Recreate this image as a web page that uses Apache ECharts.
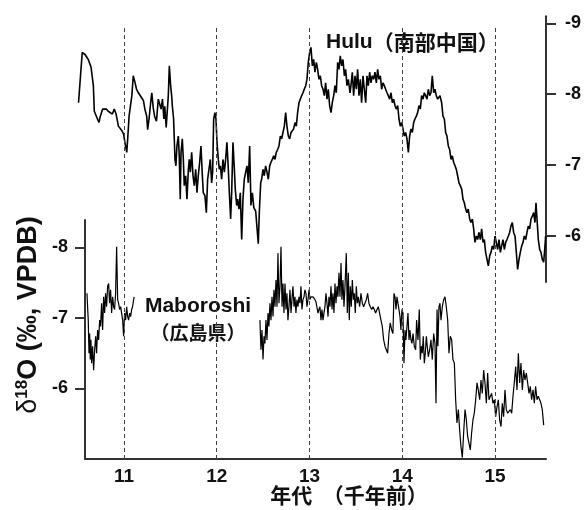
<!DOCTYPE html>
<html>
<head>
<meta charset="utf-8">
<title>Hulu / Maboroshi δ18O</title>
<script src="https://cdn.jsdelivr.net/npm/echarts@6/dist/echarts.min.js"></script>
<style>
    html, body { margin: 0; padding: 0; background: #fff; }
    #main { width: 585px; height: 510px; }
</style>
</head>
<body>
<div id="main"></div>
<script>
// Hulu (南部中国) 年代 千年前 / δ18O
var huluAge = [10.51,10.55,10.58,10.615,10.645,10.67,10.68,10.70,10.73,10.745,10.77,10.79,10.81,10.83,10.85,10.875,10.895,10.915,10.94,10.96,10.98,10.995,11.01,11.03,11.04,11.055,11.07,11.085,11.10,11.12,11.135,11.155,11.19,11.21,11.225,11.245,11.255,11.27,11.29,11.30,11.315,11.33,11.35,11.37,11.385,11.40,11.415,11.43,11.44,11.455,
    11.478,11.489,11.503,11.514,11.521,11.535,11.55,11.56,11.571,11.586,11.596,11.607,11.615,11.629,11.64,11.65,11.665,11.679,11.694,11.704,11.715,11.73,11.744,11.758,11.773,11.787,11.801,11.816,11.83,11.845,11.855,11.873,11.888,11.902,11.916,11.931,11.945,11.956,11.967,11.981,11.992,12.003,12.017,12.028,12.039,12.053,12.067,12.082,12.096,12.11,12.125,12.136,12.15,12.161,12.175,12.19,12.20,12.215,12.225,12.24,12.254,12.269,12.283,12.297,12.312,12.326,12.34,12.355,12.369,12.384,12.40,12.42,12.435,12.448,12.459,
    12.474,12.484,12.499,12.513,12.527,12.542,12.556,12.571,12.585,12.599,12.614,12.628,12.642,12.657,12.671,12.686,12.70,12.714,12.729,12.743,12.757,12.772,12.786,12.801,12.815,12.829,12.844,12.858,12.872,12.887,12.901,12.916,12.93,12.944,12.959,12.973,12.987,13.002,13.016,13.031,13.045,13.059,13.074,13.088,13.102,13.117,13.131,13.146,13.16,13.174,13.189,13.203,13.217,13.232,13.246,13.261,13.275,13.289,13.304,13.318,13.332,13.347,13.361,13.376,13.39,13.404,13.419,13.437,
    13.447,13.462,13.476,13.491,13.505,13.519,13.534,13.548,13.562,13.577,13.591,13.606,13.62,13.634,13.649,13.663,13.677,13.692,13.706,13.721,13.735,13.749,13.764,13.778,13.792,13.807,13.821,13.836,13.85,13.864,13.879,13.893,13.907,13.922,13.936,13.951,13.965,13.979,13.994,14.008,14.022,14.037,14.051,14.066,14.08,14.094,14.109,14.123,14.137,14.152,14.166,14.181,14.195,14.209,14.224,14.238,14.252,14.267,14.281,14.296,14.31,14.324,14.339,14.353,14.367,14.382,
    14.389,14.407,14.425,14.439,14.454,14.468,14.482,14.497,14.511,14.526,14.54,14.554,14.569,14.583,14.597,14.612,14.626,14.641,14.655,14.669,14.684,14.698,14.712,14.727,14.741,14.756,14.77,14.784,14.799,14.813,14.827,14.842,14.856,14.871,14.885,14.899,14.914,14.928,14.943,14.957,14.971,14.986,15.0,15.014,15.029,15.043,15.058,15.072,15.086,15.101,15.115,15.129,15.144,15.158,15.172,15.187,15.201,15.216,15.23,15.244,15.259,15.273,15.288,15.302,15.316,15.331,15.345,15.359,15.374,15.388,15.403,15.417,15.431,15.442,15.453,15.467,15.482,15.496,15.51,15.525,15.539,15.546];
var huluD18O = [-7.88,-8.59,-8.56,-8.49,-8.38,-8.12,-7.76,-7.74,-7.60,-7.69,-7.79,-7.77,-7.79,-7.76,-7.78,-7.72,-7.79,-7.72,-7.55,-7.53,-7.48,-7.44,-7.32,-7.18,-7.37,-7.69,-7.67,-7.98,-8.26,-8.16,-8.07,-8.02,-7.95,-7.91,-7.79,-7.69,-7.50,-7.65,-7.91,-8.02,-7.81,-7.69,-7.62,-7.93,-7.95,-7.79,-7.93,-7.65,-7.83,-7.53,
    -7.98,-8.40,-8.12,-7.98,-7.84,-7.65,-7.08,-6.99,-7.27,-7.41,-7.13,-6.52,-7.18,-7.37,-7.08,-6.71,-6.85,-6.52,-6.94,-7.08,-6.90,-7.18,-6.85,-6.71,-6.94,-6.61,-6.85,-7.04,-7.27,-6.85,-6.61,-6.57,-6.33,-6.80,-6.94,-7.08,-6.75,-6.90,-7.65,-7.74,-7.65,-7.32,-7.08,-6.94,-6.99,-6.80,-7.08,-6.90,-7.08,-7.32,-6.94,-6.61,-6.24,-6.61,-7.32,-6.94,-6.66,-6.43,-6.52,-6.38,-6.61,-5.95,-6.52,-6.80,-6.90,-6.99,-6.75,-7.27,-6.43,-6.61,-6.40,-6.35,-6.10,-5.89,-6.33,
    -6.75,-6.80,-6.94,-6.85,-6.99,-6.90,-6.80,-6.99,-7.04,-7.08,-7.13,-7.08,-7.18,-7.22,-7.27,-7.41,-7.37,-7.46,-7.55,-7.74,-7.55,-7.41,-7.37,-7.46,-7.46,-7.51,-7.60,-7.55,-7.74,-7.88,-7.93,-7.98,-8.02,-8.07,-8.12,-8.21,-8.45,-8.59,-8.66,-8.40,-8.49,-8.31,-8.45,-8.35,-8.21,-8.26,-8.12,-8.07,-7.98,-8.16,-7.93,-8.07,-7.84,-7.74,-7.88,-7.98,-8.12,-8.02,-8.45,-8.35,-8.54,-8.40,-8.49,-8.26,-8.35,-8.12,-8.21,-8.02,
    -8.12,-8.31,-7.98,-8.26,-8.07,-8.35,-7.98,-8.21,-7.88,-8.26,-8.07,-7.88,-8.26,-8.12,-8.31,-8.16,-8.26,-8.21,-8.31,-8.16,-8.35,-8.21,-8.26,-8.07,-8.16,-8.12,-8.07,-8.02,-7.98,-7.93,-8.02,-7.88,-7.93,-7.84,-7.79,-7.84,-7.65,-7.55,-7.60,-7.51,-7.41,-7.46,-7.37,-7.18,-7.41,-7.51,-7.46,-7.60,-7.65,-7.69,-7.74,-7.84,-7.79,-7.98,-7.93,-8.02,-7.98,-7.93,-8.07,-7.98,-8.02,-8.26,-8.02,-8.07,-7.98,-7.93,
    -7.93,-7.98,-7.88,-7.69,-7.65,-7.46,-7.41,-7.27,-7.22,-7.08,-7.13,-7.04,-6.99,-6.94,-6.85,-6.75,-6.71,-6.66,-6.52,-6.47,-6.38,-6.33,-6.38,-6.24,-6.19,-6.24,-6.10,-5.91,-6.00,-5.95,-6.05,-5.95,-6.10,-5.91,-5.95,-5.77,-5.67,-5.58,-5.72,-5.77,-5.86,-5.81,-6.00,-5.91,-5.81,-5.95,-5.77,-5.86,-5.95,-5.81,-5.91,-5.95,-6.00,-6.05,-6.14,-6.19,-6.05,-6.00,-5.77,-5.53,-5.67,-5.77,-5.86,-5.91,-6.00,-5.95,-6.05,-6.14,-6.10,-6.24,-6.28,-6.33,-6.19,-6.47,-6.24,-5.95,-5.81,-5.77,-5.67,-5.63,-5.86,-6.00];

// Maboroshi (広島県), null = 欠測
var maboAge = [10.601,10.615,10.623,10.63,10.637,10.644,10.651,10.662,10.673,10.684,10.695,10.705,10.716,10.727,10.738,10.748,10.759,10.77,10.781,10.792,10.802,10.813,10.824,10.835,10.845,10.856,10.867,10.878,10.889,10.899,10.91,10.921,10.932,10.942,10.953,10.964,10.975,10.986,10.996,11.007,11.018,11.029,11.04,11.05,11.061,11.072,11.083,11.093,11.104,11.111,
    11.8,
    12.466,12.477,12.488,12.499,12.51,12.52,12.531,12.542,12.553,12.563,12.574,12.585,12.596,12.607,12.617,12.628,12.639,12.65,12.66,12.671,12.682,12.693,12.704,12.714,12.725,12.736,12.747,12.757,12.768,12.779,12.79,12.801,12.811,12.822,12.833,12.844,12.854,12.865,12.876,12.887,12.898,12.908,12.919,12.93,12.941,12.951,12.962,12.973,12.984,12.995,13.005,13.016,13.027,13.038,13.049,13.059,13.07,13.081,13.092,13.102,13.113,13.124,13.135,13.146,13.156,13.167,13.178,13.189,13.20,13.21,13.221,13.232,13.243,13.253,13.264,13.275,13.286,13.297,13.307,13.318,13.329,13.34,13.35,13.361,13.372,13.383,
    13.397,13.408,13.419,13.429,13.44,13.451,13.462,13.473,13.483,13.494,13.505,13.516,13.526,13.541,13.555,13.57,13.584,13.598,13.613,13.627,13.641,13.656,13.67,13.685,13.699,13.713,13.728,13.742,13.756,13.771,13.785,13.80,13.814,13.828,13.843,13.857,13.871,13.886,13.90,13.911,13.922,13.933,13.943,13.954,13.965,13.976,13.986,13.997,14.008,14.019,14.03,14.04,14.051,14.062,14.073,14.083,14.094,14.105,14.116,14.13,14.145,14.155,14.17,14.184,14.195,14.206,14.216,14.227,14.238,14.249,14.26,14.27,14.281,14.296,14.31,14.324,14.339,14.353,14.364,14.375,14.385,14.396,14.407,
    14.418,14.432,14.447,14.461,14.475,14.49,14.504,14.518,14.533,14.547,14.562,14.576,14.59,14.605,14.619,14.633,14.648,14.662,14.677,14.691,14.705,14.72,14.734,14.748,14.763,14.777,14.792,14.806,14.82,14.835,14.849,14.863,14.878,14.892,14.907,14.921,14.935,14.95,14.964,14.978,14.993,15.007,15.022,15.036,15.05,15.065,15.079,15.093,15.108,15.122,15.137,15.151,15.165,15.18,15.194,15.208,15.223,15.237,15.252,15.266,15.28,15.295,15.309,15.323,15.338,15.352,15.367,15.381,15.395,15.41,15.424,15.438,15.453,15.467,15.482,15.496,15.51,15.525];
var maboD18O = [-7.35,-6.97,-6.50,-6.78,-6.41,-6.69,-6.36,-6.60,-6.26,-6.55,-6.74,-6.50,-6.83,-6.69,-6.97,-6.88,-7.21,-6.83,-7.30,-7.07,-7.35,-7.16,-7.45,-7.49,-7.21,-7.40,-7.07,-7.30,-7.16,-7.12,-7.35,-8.01,-7.26,-7.21,-7.12,-7.16,-7.07,-6.97,-6.74,-7.07,-6.97,-7.16,-7.02,-6.97,-7.07,-7.02,-7.12,-7.16,-7.26,-7.30,
    null,
    -6.97,-6.55,-6.83,-6.41,-6.74,-6.64,-6.97,-6.69,-7.07,-6.88,-7.21,-6.97,-7.30,-7.02,-7.40,-7.16,-7.54,-7.16,-7.92,-7.21,-7.45,-8.01,-7.16,-7.49,-7.07,-7.49,-7.12,-7.35,-6.97,-7.16,-7.40,-7.07,-7.26,-7.45,-7.16,-7.30,-7.07,-7.26,-7.16,-7.30,-7.21,-7.45,-7.12,-7.26,-7.30,-7.40,-7.35,-7.16,-7.26,-7.40,-7.26,-7.30,-7.28,-7.30,-7.30,-7.26,-7.23,-7.21,-7.07,-7.12,-7.16,-6.97,-7.12,-6.97,-7.07,-7.16,-7.35,-7.21,-7.02,-7.30,-7.16,-7.45,-7.12,-7.35,-7.07,-7.49,-7.21,-7.45,-7.30,-7.64,-7.30,-7.78,-7.26,-7.54,-7.16,-7.45,
    -7.92,-7.07,-7.64,-6.97,-7.45,-7.16,-7.54,-7.26,-7.35,-7.07,-7.45,-7.21,-7.30,-7.16,-7.35,-7.21,-7.16,-7.21,-7.26,-7.35,-7.21,-7.16,-7.12,-7.16,-7.12,-7.07,-7.12,-7.16,-7.07,-6.97,-6.88,-6.69,-6.60,-6.60,-6.50,-6.78,-6.93,-6.83,-6.78,-7.35,-7.30,-7.12,-7.30,-7.30,-7.12,-7.02,-6.83,-7.12,-7.07,-6.36,-6.83,-6.69,-6.88,-7.07,-6.69,-6.83,-6.69,-6.64,-6.78,-6.60,-6.55,-6.97,-6.69,-7.12,-6.41,-6.60,-6.50,-6.74,-6.36,-6.50,-6.74,-6.60,-6.45,-6.55,-6.69,-6.41,-6.78,-6.64,-5.79,-7.12,-6.60,-7.16,-7.21,
    -6.97,-7.16,-7.26,-7.30,-7.16,-6.97,-6.50,-6.74,-6.69,-6.41,-6.36,-5.84,-5.51,-5.70,-5.41,-5.18,-5.02,-5.37,-5.70,-5.56,-5.32,-5.22,-5.13,-5.37,-5.56,-5.65,-5.84,-6.08,-5.98,-5.84,-6.12,-5.93,-6.26,-6.08,-5.79,-6.22,-5.84,-5.89,-5.93,-5.79,-5.84,-5.60,-5.74,-5.84,-5.56,-5.46,-5.79,-5.60,-5.98,-5.70,-5.65,-5.67,-5.70,-5.65,-5.89,-6.08,-6.31,-5.98,-6.50,-6.08,-6.36,-5.98,-6.26,-6.12,-6.22,-6.08,-5.93,-6.03,-5.84,-5.98,-5.79,-6.03,-5.84,-5.89,-5.84,-5.79,-5.70,-5.48];

var ageTicks = [11, 12, 13, 14, 15];
var huluTicks = [-9, -8, -7, -6];
var maboTicks = [-8, -7, -6];

var latin = '"Liberation Sans", Arial, "Noto Sans CJK JP", sans-serif';
var cjk = '"Noto Sans CJK JP", "Liberation Sans", sans-serif';

function pairs(xs, ys) {
    var out = [];
    for (var i = 0; i < xs.length; i++) {
        out.push([xs[i], ys[i] === null ? '-' : ys[i]]);
    }
    return out;
}

function sideAxis(grid, pos, min, max, ticks, margin) {
    return {
        type: 'value', gridIndex: grid, position: pos, inverse: true,
        min: min, max: max,
        axisLine: { show: true, lineStyle: { color: '#333', width: 2 } },
        axisTick: { show: true, customValues: ticks, length: 10, lineStyle: { color: '#333', width: 2 } },
        axisLabel: { customValues: ticks, margin: margin, color: '#111', fontSize: 18, fontWeight: 'bold', fontFamily: latin },
        splitLine: { show: false }
    };
}

var myChart = echarts.init(document.getElementById('main'));

myChart.setOption({
    animation: false,
    backgroundColor: '#fff',
    grid: [
        { left: 77.6, right: 39, top: 16.2, bottom: 227.9 },   // Hulu
        { left: 85, right: 39, top: 220, bottom: 51 },         // Maboroshi
        { left: 85, right: 39, top: 25, bottom: 51 }           // 点線
    ],
    xAxis: [
        { type: 'value', gridIndex: 0, min: 10.5, max: 15.55, show: false },
        {
            type: 'value', gridIndex: 1, min: 10.58, max: 15.55,
            axisLine: { onZero: false, lineStyle: { color: '#333', width: 2 } },
            axisTick: { show: false },
            axisLabel: { customValues: ageTicks, margin: 8, color: '#111', fontSize: 19, fontWeight: 'bold', fontFamily: latin },
            splitLine: { show: false }
        },
        { type: 'value', gridIndex: 2, min: 10.58, max: 15.55, show: false }
    ],
    yAxis: [
        sideAxis(0, 'right', -9.1, -5.35, huluTicks, 19),
        sideAxis(1, 'left', -8.39, -5.0, maboTicks, 17),
        { type: 'value', gridIndex: 2, min: 0, max: 1, show: false }
    ],
    series: [
        {
            type: 'line', xAxisIndex: 2, yAxisIndex: 2, z: 1,
            data: [], showSymbol: false,
            markLine: {
                silent: true, symbol: ['none', 'none'],
                label: { show: false },
                lineStyle: { type: [4, 3], color: '#444', width: 1 },
                data: ageTicks.map(function (a) { return { xAxis: a }; })
            }
        },
        {
            name: 'Hulu', type: 'line', xAxisIndex: 0, yAxisIndex: 0, z: 3,
            data: pairs(huluAge, huluD18O),
            showSymbol: false,
            lineStyle: { color: '#000', width: 1.6 }
        },
        {
            name: 'Maboroshi', type: 'line', xAxisIndex: 1, yAxisIndex: 1, z: 3,
            data: pairs(maboAge, maboD18O),
            showSymbol: false, connectNulls: false,
            lineStyle: { color: '#000', width: 1.2 }
        }
    ],
    graphic: [
        {
            type: 'text', x: 29, y: 315, rotation: Math.PI / 2,
            style: {
                text: '{d|δ}{s|18}{b|O (‰, VPDB)}',
                align: 'center', verticalAlign: 'middle',
                rich: {
                    d: { fontSize: 27, fontFamily: latin, fill: '#111', lineHeight: 30 },
                    s: { fontSize: 17, fontWeight: 'bold', fontFamily: latin, fill: '#111', verticalAlign: 'top', lineHeight: 30 },
                    b: { fontSize: 27, fontWeight: 'bold', fontFamily: latin, fill: '#111', lineHeight: 30 }
                }
            }
        },
        {
            type: 'text', x: 349, y: 495,
            style: { text: '年代　（千年前）', font: 'bold 21px ' + cjk, fill: '#111', align: 'center', verticalAlign: 'middle' }
        },
        {
            type: 'text', x: 326, y: 42,
            style: {
                text: '{a|Hulu}{b|（南部中国）}',
                verticalAlign: 'middle',
                rich: {
                    a: { fontSize: 21, fontWeight: 'bold', fontFamily: latin, fill: '#111' },
                    b: { fontSize: 21, fontWeight: 'bold', fontFamily: cjk, fill: '#111' }
                }
            }
        },
        {
            type: 'text', x: 198, y: 306,
            style: { text: 'Maboroshi', font: 'bold 21px ' + latin, fill: '#111', align: 'center', verticalAlign: 'middle' }
        },
        {
            type: 'text', x: 198, y: 333,
            style: { text: '（広島県）', font: 'bold 19px ' + cjk, fill: '#111', align: 'center', verticalAlign: 'middle' }
        }
    ]
});
</script>
</body>
</html>
